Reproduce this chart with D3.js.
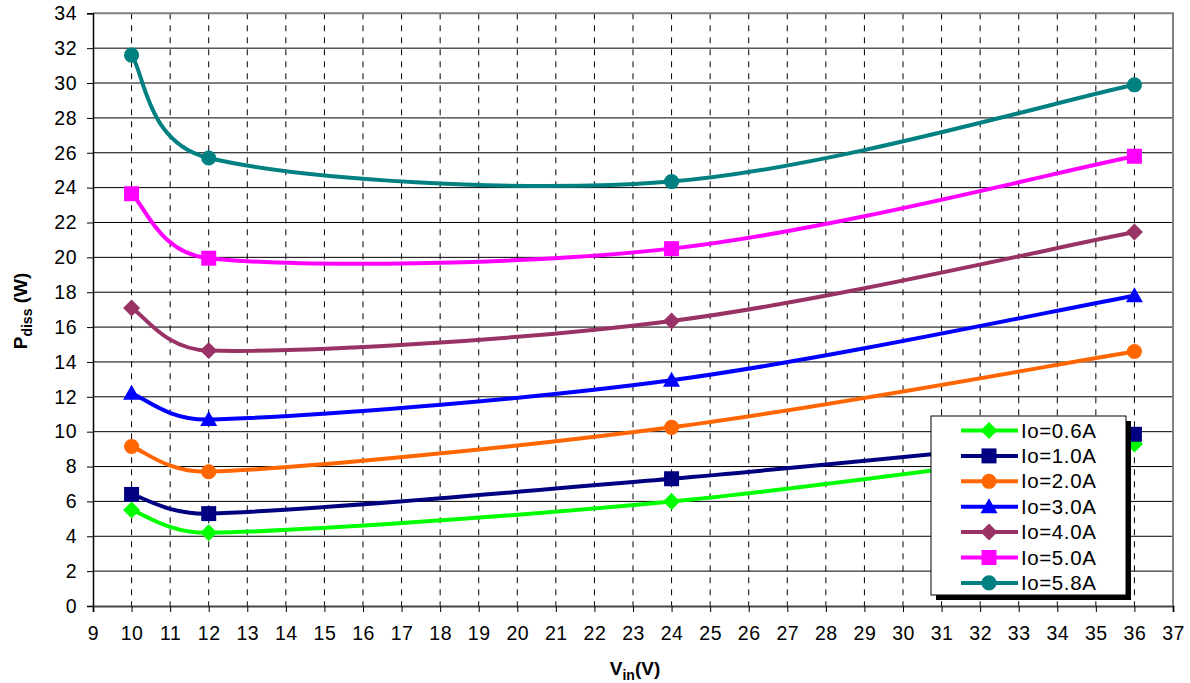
<!DOCTYPE html>
<html><head><meta charset="utf-8">
<script src="https://cdn.jsdelivr.net/npm/d3@7"></script>
<style>body{margin:0;background:#fff;} svg{display:block;font-family:"Liberation Sans",Arial,sans-serif;}</style>
</head><body>
<svg id="c" width="1190" height="683"></svg>
<script>
const vin = [10, 12, 24, 36];
const io06 = [5.5, 4.2, 6.0, 9.3];
const io10 = [6.4, 5.3, 7.3, 9.85];
const io20 = [9.15, 7.7, 10.25, 14.6];
const io30 = [12.2, 10.7, 12.95, 17.8];
const io40 = [17.1, 14.65, 16.35, 21.45];
const io50 = [23.65, 19.95, 20.5, 25.8];
const io58 = [31.6, 25.7, 24.35, 29.9];
const seriesNames = ["Io=0.6A","Io=1.0A","Io=2.0A","Io=3.0A","Io=4.0A","Io=5.0A","Io=5.8A"];
const seriesValues = [io06, io10, io20, io30, io40, io50, io58];
const colors = ["#00ff00","#000080","#ff6600","#0000ff","#993366","#ff00ff","#008080"];
const markers = ["diamond","square","circle","triangle","diamond","square","circle"];
const xTicks = d3.range(9, 38, 1);
const yTicks = d3.range(0, 35, 2);

const svg = d3.select("#c");
const L = 93, R = 1173, T = 13.3, B = 606;
const x = d3.scaleLinear().domain([9, 37]).range([L, R]);
const y = d3.scaleLinear().domain([0, 34]).range([B, T]);

// horizontal grid
svg.append("g").selectAll("line").data(yTicks.filter(d => d > 0 && d < 34)).join("line")
  .attr("x1", L).attr("x2", R).attr("y1", d => y(d)).attr("y2", d => y(d))
  .attr("stroke", "#000").attr("stroke-width", 1);
// vertical dashed grid
svg.append("g").selectAll("line").data(xTicks.filter(d => d > 9 && d < 37)).join("line")
  .attr("x1", d => x(d)).attr("x2", d => x(d)).attr("y1", T).attr("y2", B)
  .attr("stroke", "#000").attr("stroke-width", 1).attr("stroke-dasharray", "6,6");
// border top/right
svg.append("path").attr("d", `M${L},${T}H${R}V${B}`).attr("fill", "none").attr("stroke", "#808080").attr("stroke-width", 2);

// axes
const yAxis = d3.axisLeft(y).tickValues(yTicks).tickSize(6).tickPadding(10);
const gy = svg.append("g").attr("transform", `translate(${L},0)`).call(yAxis);
gy.select(".domain").attr("stroke", "#000").attr("stroke-width", 1.5);
gy.selectAll("text").attr("font-size", 19.5).attr("letter-spacing", 0.5).attr("fill", "#000").attr("font-family", "Liberation Sans, Arial");
const xAxis = d3.axisBottom(x).tickValues(xTicks).tickSize(6).tickPadding(14);
const gx = svg.append("g").attr("transform", `translate(0,${B})`).call(xAxis);
gx.select(".domain").attr("stroke", "#444").attr("stroke-width", 2);
gx.selectAll("text").attr("font-size", 19.5).attr("letter-spacing", 0.5).attr("fill", "#000").attr("font-family", "Liberation Sans, Arial");

// axis titles
const yt = svg.append("text").attr("transform", "translate(27,311) rotate(-90)")
  .attr("text-anchor", "middle").attr("font-weight", "bold").attr("font-size", 19);
yt.append("tspan").text("P");
yt.append("tspan").attr("font-size", 14).attr("dy", 5).text("diss");
yt.append("tspan").attr("dy", -5).text(" (W)");
const xt = svg.append("text").attr("x", 635).attr("y", 675)
  .attr("text-anchor", "middle").attr("font-weight", "bold").attr("font-size", 19);
xt.append("tspan").text("V");
xt.append("tspan").attr("font-size", 14).attr("dy", 5).text("in");
xt.append("tspan").attr("dy", -5).text("(V)");

function symbolPath(type) {
  if (type === "diamond") return "M0,-8.5L8.5,0L0,8.5L-8.5,0Z";
  if (type === "square") return "M-7.5,-7.5H7.5V7.5H-7.5Z";
  if (type === "triangle") return "M0,-8.5L8.5,6.5H-8.5Z";
  return d3.symbol().type(d3.symbolCircle).size(180)();
}

// Excel-style smoothed Bezier (computed in pixel space from the scales)
function smoothPath(pts) {
  const p = pts.map(d => [x(d[0]), y(d[1])]);
  const path = d3.path();
  path.moveTo(p[0][0], p[0][1]);
  for (let i = 0; i < p.length - 1; i++) {
    const p0 = p[Math.max(0, i - 1)], p1 = p[i], p2 = p[i + 1], p3 = p[Math.min(p.length - 1, i + 2)];
    const d12 = Math.hypot(p2[0] - p1[0], p2[1] - p1[1]);
    let t1 = [(p2[0] - p0[0]) / 6, (p2[1] - p0[1]) / 6];
    let t2 = [(p3[0] - p1[0]) / 6, (p3[1] - p1[1]) / 6];
    const l1 = Math.hypot(t1[0], t1[1]), l2 = Math.hypot(t2[0], t2[1]);
    if (l1 > d12 / 2) t1 = t1.map(v => v * (d12 / 2) / l1);
    if (l2 > d12 / 2) t2 = t2.map(v => v * (d12 / 2) / l2);
    path.bezierCurveTo(p1[0] + t1[0], p1[1] + t1[1], p2[0] - t2[0], p2[1] - t2[1], p2[0], p2[1]);
  }
  return path.toString();
}

seriesValues.forEach((vals, i) => {
  const pts = vin.map((v, j) => [v, vals[j]]);
  svg.append("path").attr("d", smoothPath(pts)).attr("fill", "none")
    .attr("stroke", colors[i]).attr("stroke-width", 4).attr("stroke-linejoin", "round");
  svg.append("g").selectAll("path").data(pts).join("path")
    .attr("transform", d => `translate(${x(d[0])},${y(d[1])})`)
    .attr("d", symbolPath(markers[i])).attr("fill", colors[i]);
});

// legend
const lx = 931, ly = 416, lw = 195, lh = 179;
svg.append("rect").attr("x", lx + 5).attr("y", ly + 5).attr("width", lw).attr("height", lh).attr("fill", "#000");
svg.append("rect").attr("x", lx).attr("y", ly).attr("width", lw).attr("height", lh).attr("fill", "#fff").attr("stroke", "#000").attr("stroke-width", 1);
seriesNames.forEach((n, i) => {
  const cy = 430.5 + i * 25.4;
  svg.append("line").attr("x1", 961).attr("x2", 1018).attr("y1", cy).attr("y2", cy)
    .attr("stroke", colors[i]).attr("stroke-width", 4);
  svg.append("path").attr("transform", `translate(989,${cy})`).attr("d", symbolPath(markers[i])).attr("fill", colors[i]);
  svg.append("text").attr("x", 1021).attr("y", cy + 7).attr("font-size", 20.5).attr("letter-spacing", 0.6).text(n);
});
</script>
</body></html>
